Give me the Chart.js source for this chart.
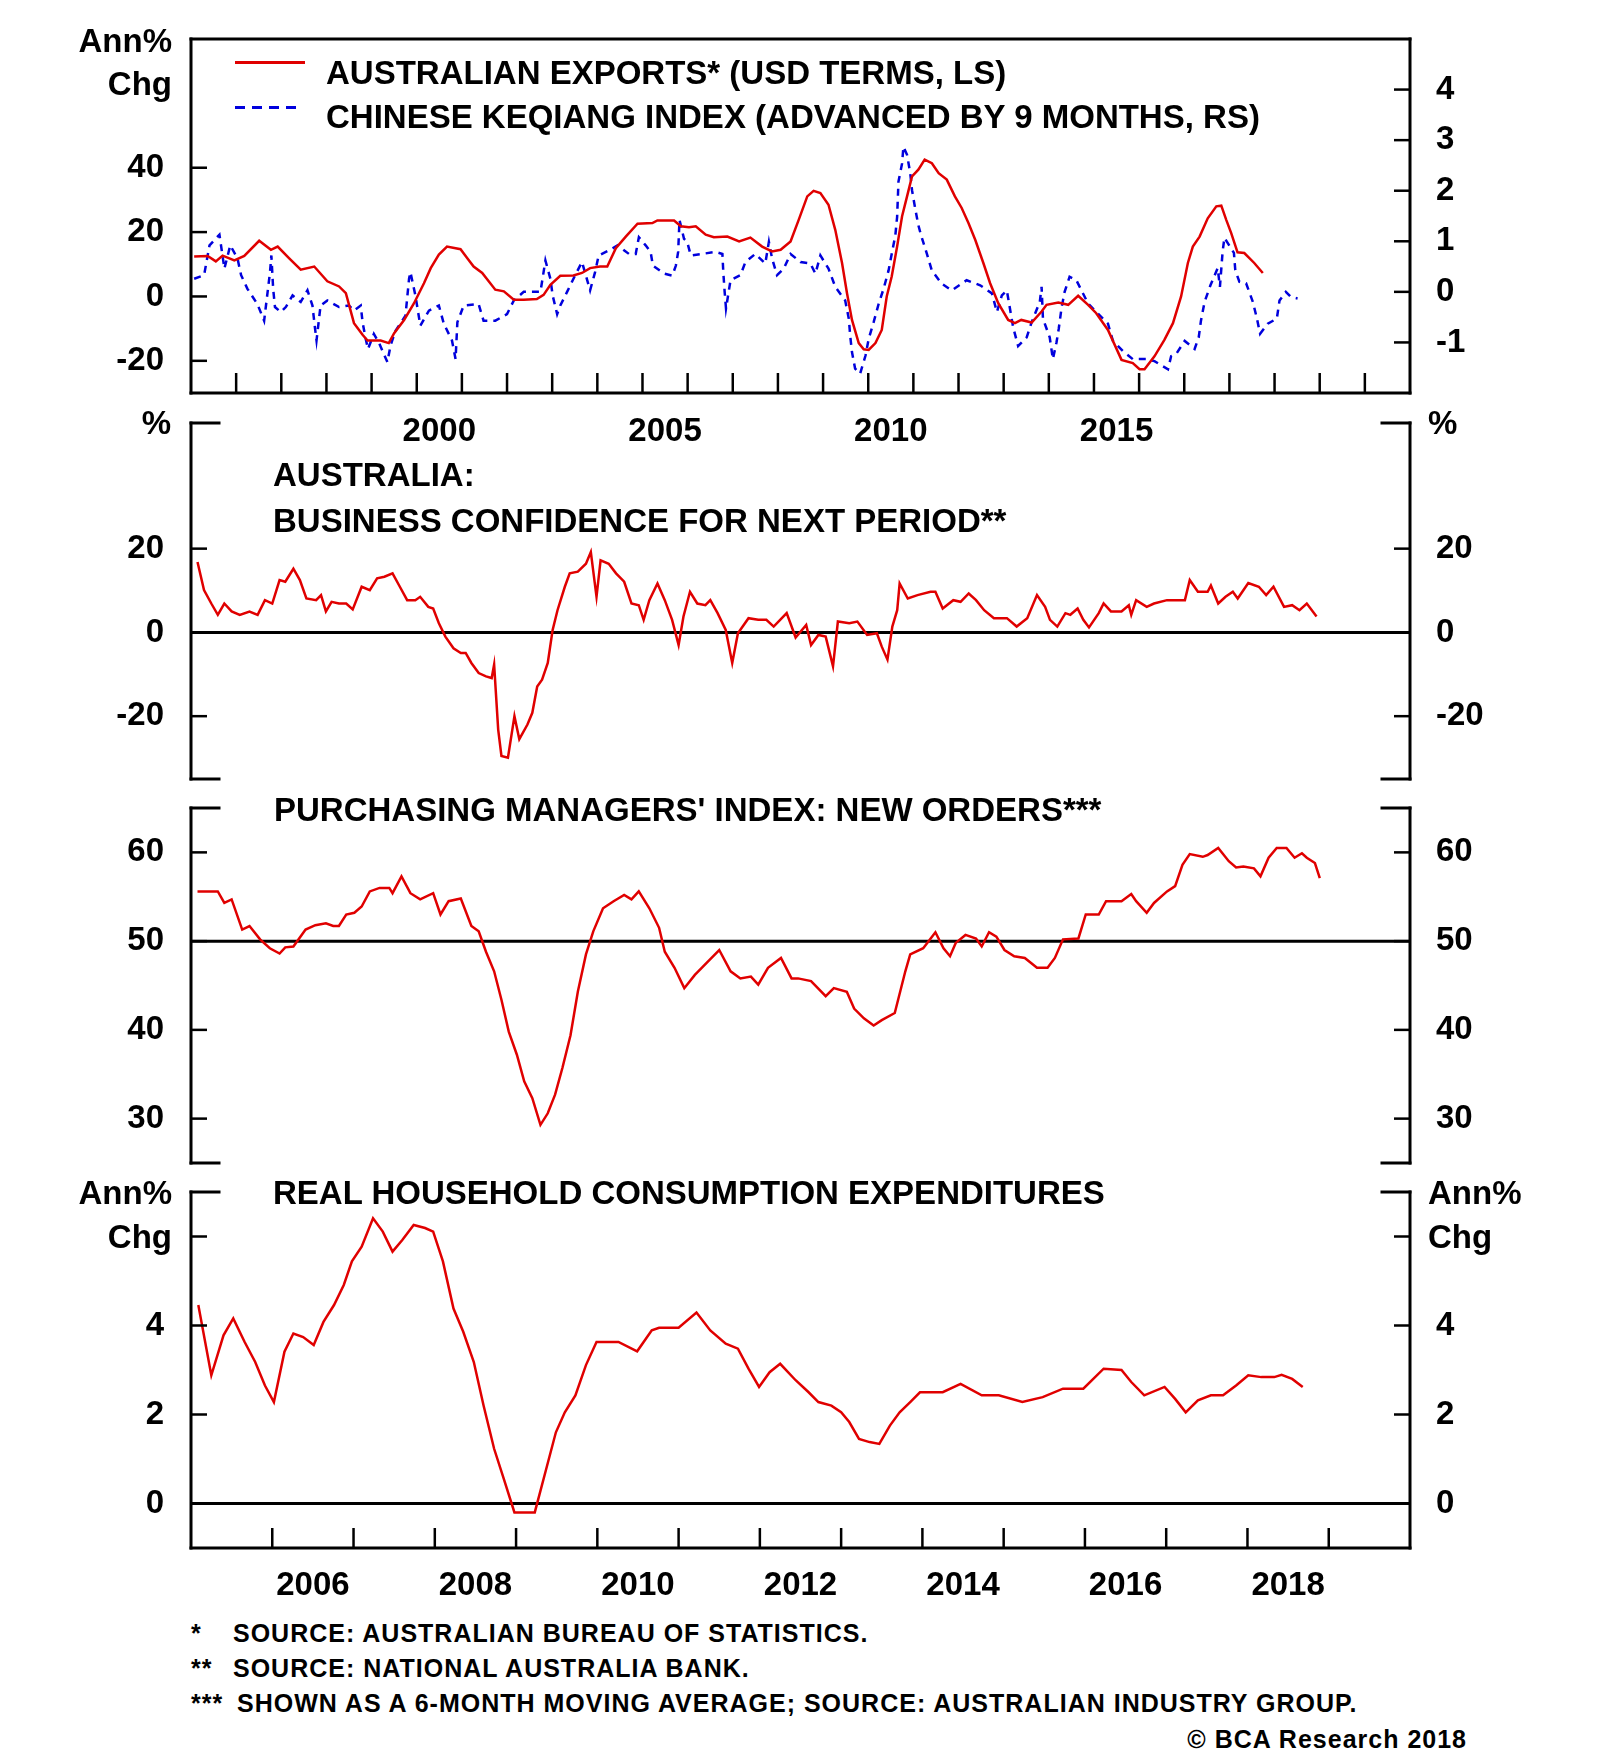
<!DOCTYPE html>
<html>
<head>
<meta charset="utf-8">
<script src="https://cdn.jsdelivr.net/npm/chart.js@4.4.1/dist/chart.umd.min.js"></script>
<style>
  html, body { margin: 0; padding: 0; background: #fff; }
  #page { position: relative; width: 1600px; height: 1758px; overflow: hidden;
          font-family: 'Liberation Sans', Arial, sans-serif; font-weight: bold; color: #000; }
  canvas { position: absolute; left: 0; }
  .t { position: absolute; font-size: 33px; line-height: 1; white-space: nowrap; transform: translateY(-50%); }
  .fn { font-size: 25px; letter-spacing: 1px; }
  .key { position: absolute; height: 3px; }
</style>
</head>
<body>
<div id="page">
  <canvas id="c1" width="1600" height="460" style="top:0px"></canvas>
  <canvas id="c2" width="1600" height="400" style="top:400px"></canvas>
  <canvas id="c3" width="1600" height="390" style="top:790px"></canvas>
  <canvas id="c4" width="1600" height="440" style="top:1170px"></canvas>

  <!-- panel 1: units + legend -->
  <div class="t" style="right:1428px; top:40px">Ann%</div>
  <div class="t" style="right:1428px; top:83px">Chg</div>
  <div class="key" style="left:235px; top:61px; width:70px; background:#e00000"></div>
  <div class="t" style="left:326px; top:72px">AUSTRALIAN EXPORTS* (USD TERMS, LS)</div>
  <div class="key" style="left:235px; top:106px; width:62px;
       background:repeating-linear-gradient(to right, #0000dd 0 10px, transparent 10px 17px)"></div>
  <div class="t" style="left:326px; top:116px">CHINESE KEQIANG INDEX (ADVANCED BY 9 MONTHS, RS)</div>

  <!-- panel 2 -->
  <div class="t" style="right:1429px; top:422px">%</div>
  <div class="t" style="left:1428px; top:422px">%</div>
  <div class="t" style="left:273px; top:474px">AUSTRALIA:</div>
  <div class="t" style="left:273px; top:520px">BUSINESS CONFIDENCE FOR NEXT PERIOD**</div>

  <!-- panel 3 -->
  <div class="t" style="left:274px; top:809px">PURCHASING MANAGERS' INDEX: NEW ORDERS***</div>

  <!-- panel 4 -->
  <div class="t" style="right:1428px; top:1192px">Ann%</div>
  <div class="t" style="right:1428px; top:1236px">Chg</div>
  <div class="t" style="left:1428px; top:1192px">Ann%</div>
  <div class="t" style="left:1428px; top:1236px">Chg</div>
  <div class="t" style="left:273px; top:1192px">REAL HOUSEHOLD CONSUMPTION EXPENDITURES</div>

  <!-- footnotes -->
  <div class="t fn" style="left:191px; top:1633px">*</div>
  <div class="t fn" style="left:233px; top:1633px">SOURCE: AUSTRALIAN BUREAU OF STATISTICS.</div>
  <div class="t fn" style="left:191px; top:1668px">**</div>
  <div class="t fn" style="left:233px; top:1668px">SOURCE: NATIONAL AUSTRALIA BANK.</div>
  <div class="t fn" style="left:191px; top:1703px">***</div>
  <div class="t fn" style="left:237px; top:1703px">SHOWN AS A 6-MONTH MOVING AVERAGE; SOURCE: AUSTRALIAN INDUSTRY GROUP.</div>
  <div class="t fn" style="right:133px; top:1739px">© BCA Research 2018</div>
</div>

<script>
// ---- data ----

// Australian exports, ann% chg, left scale of top panel
const exportYears = [1995.07, 1995.37, 1995.55, 1995.70, 1995.96, 1996.18, 1996.51, 1996.77, 1996.92, 1997.17,
  1997.43, 1997.73, 1998.02, 1998.28, 1998.43, 1998.61, 1998.80, 1998.91, 1999.20, 1999.38, 1999.50, 1999.72,
  1999.94, 2000.16, 2000.31, 2000.49, 2000.67, 2000.97, 2001.12, 2001.26, 2001.45, 2001.74, 2001.93, 2002.15,
  2002.37, 2002.66, 2002.81, 2002.96, 2003.18, 2003.47, 2003.66, 2003.84, 2004.06, 2004.22, 2004.41, 2004.63,
  2004.89, 2005.22, 2005.33, 2005.70, 2005.85, 2006.03, 2006.18, 2006.40, 2006.58, 2006.88, 2007.14, 2007.39,
  2007.65, 2007.87, 2008.06, 2008.28, 2008.46, 2008.65, 2008.79, 2008.94, 2009.12, 2009.27, 2009.42, 2009.53,
  2009.64, 2009.79, 2009.90, 2010.01, 2010.16, 2010.30, 2010.41, 2010.52, 2010.64, 2010.75, 2010.86, 2010.97,
  2011.11, 2011.25, 2011.41, 2011.56, 2011.74, 2011.92, 2012.07, 2012.22, 2012.37, 2012.55, 2012.70, 2012.88,
  2013.10, 2013.25, 2013.39, 2013.62, 2013.84, 2013.95, 2014.21, 2014.43, 2014.65, 2014.87, 2015.05, 2015.31,
  2015.61, 2015.86, 2016.01, 2016.12, 2016.34, 2016.56, 2016.75, 2016.93, 2017.08, 2017.19, 2017.34, 2017.52,
  2017.71, 2017.82, 2017.93, 2018.04, 2018.18, 2018.33, 2018.55, 2018.74];
const exportValues = [12.4, 12.6, 10.9, 12.7, 11.2, 12.6, 17.3, 14.5, 15.5, 11.9,
  8.3, 9.3, 4.7, 3.1, 1.0, -8.3, -11.9, -13.7, -13.7, -14.5, -11.4, -7.3,
  -2.1, 4.1, 8.8, 13.0, 15.5, 14.7, 11.9, 9.3, 7.3, 2.1, 1.6, -1.0,
  -1.0, -0.8, 0.5, 3.6, 6.4, 6.5, 7.3, 8.8, 9.3, 9.3, 15.0, 18.6,
  22.6, 22.8, 23.6, 23.6, 21.8, 21.5, 21.8, 19.2, 18.4, 18.6, 17.1, 18.3,
  15.5, 14.0, 14.5, 17.1, 23.8, 31.1, 32.8, 32.1, 28.5, 20.7, 10.4, 1.0,
  -7.3, -14.5, -16.4, -16.6, -14.5, -10.4, 0.0, 6.2, 15.5, 24.9, 31.1, 37.3,
  39.4, 42.5, 41.4, 38.3, 36.3, 31.1, 27.5, 22.8, 17.6, 10.4, 4.1, -2.1,
  -7.3, -8.3, -7.3, -8.1, -4.7, -2.6, -1.9, -2.6, 0.2, -2.6, -5.2, -10.4,
  -19.7, -20.7, -22.6, -22.6, -18.6, -13.5, -8.3, 0.0, 10.4, 15.5, 18.6, 24.3,
  28.0, 28.2, 23.8, 19.7, 13.7, 13.5, 10.4, 7.3];

// Chinese Keqiang index (advanced 9 months), right scale of top panel
const keqiangYears = [1995.07, 1995.29, 1995.41, 1995.63, 1995.74, 1995.87, 1996.03, 1996.11, 1996.25, 1996.47,
  1996.62, 1996.75, 1996.78, 1996.82, 1996.86, 1996.99, 1997.10, 1997.25, 1997.43, 1997.58, 1997.69, 1997.74,
  1997.78, 1997.87, 1998.02, 1998.28, 1998.50, 1998.61, 1998.76, 1998.80, 1998.87, 1998.92, 1999.05, 1999.16,
  1999.35, 1999.42, 1999.53, 1999.75, 1999.83, 1999.86, 1999.97, 2000.08, 2000.27, 2000.49, 2000.60, 2000.78,
  2000.86, 2000.90, 2001.04, 2001.37, 2001.48, 2001.74, 2002.00, 2002.15, 2002.37, 2002.74, 2002.85, 2002.96,
  2003.01, 2003.11, 2003.18, 2003.33, 2003.51, 2003.66, 2003.84, 2003.95, 2004.03, 2004.26, 2004.45, 2004.70,
  2004.85, 2004.92, 2005.07, 2005.18, 2005.23, 2005.48, 2005.66, 2005.74, 2005.79, 2005.82, 2005.92, 2005.99,
  2006.07, 2006.32, 2006.62, 2006.77, 2006.79, 2006.82, 2006.85, 2006.95, 2007.17, 2007.28, 2007.50, 2007.72,
  2007.80, 2007.87, 2007.98, 2008.13, 2008.28, 2008.50, 2008.72, 2008.83, 2008.94, 2009.12, 2009.27, 2009.49,
  2009.57, 2009.60, 2009.64, 2009.71, 2009.82, 2009.94, 2010.01, 2010.12, 2010.23, 2010.34, 2010.45, 2010.52,
  2010.60, 2010.64, 2010.67, 2010.75, 2010.78, 2010.86, 2010.93, 2010.97, 2011.04, 2011.11, 2011.17, 2011.30,
  2011.41, 2011.63, 2011.85, 2012.18, 2012.48, 2012.74, 2012.85, 2012.96, 2013.07, 2013.21, 2013.32, 2013.51,
  2013.62, 2013.80, 2013.84, 2013.87, 2014.02, 2014.09, 2014.17, 2014.22, 2014.28, 2014.35, 2014.46, 2014.61,
  2014.87, 2015.02, 2015.31, 2015.42, 2015.64, 2015.86, 2016.16, 2016.34, 2016.64, 2016.71, 2016.82, 2017.01,
  2017.23, 2017.32, 2017.37, 2017.45, 2017.58, 2017.74, 2017.79, 2017.85, 2017.89, 2017.96, 2018.10, 2018.13,
  2018.22, 2018.37, 2018.52, 2018.61, 2018.68, 2018.85, 2019.05, 2019.11, 2019.25, 2019.36, 2019.51];
const keqiangValues = [0.26, 0.33, 0.92, 1.13, 0.46, 0.92, 0.66, 0.33, 0.06, -0.24,
  -0.57, 0.39, 0.72, 0.06, -0.30, -0.40, -0.30, -0.07, -0.20, 0.03, -0.27, -0.67,
  -0.96, -0.27, -0.17, -0.30, -0.27, -0.37, -0.27, -0.60, -0.93, -1.13, -0.83, -1.00,
  -1.39, -1.06, -0.77, -0.47, 0.26, 0.39, -0.07, -0.67, -0.37, -0.27, -0.63, -0.96,
  -1.33, -0.60, -0.27, -0.24, -0.57, -0.57, -0.44, -0.17, 0.00, 0.00, 0.62, 0.26,
  -0.07, -0.44, -0.27, 0.00, 0.33, 0.59, 0.03, 0.39, 0.72, 0.82, 0.92, 0.75,
  0.75, 1.08, 0.92, 0.79, 0.52, 0.36, 0.32, 0.52, 0.79, 1.42, 1.05, 0.99,
  0.72, 0.75, 0.79, 0.75, 0.39, 0.00, -0.33, 0.23, 0.33, 0.59, 0.75, 0.56,
  0.99, 0.66, 0.33, 0.46, 0.75, 0.59, 0.56, 0.36, 0.72, 0.46, 0.10, -0.17,
  -0.53, -0.86, -1.19, -1.52, -1.62, -1.26, -0.93, -0.60, -0.24, 0.06, 0.42, 0.75,
  1.11, 1.48, 2.18, 2.54, 2.87, 2.71, 2.35, 2.01, 1.65, 1.32, 1.12, 0.75,
  0.42, 0.16, 0.03, 0.23, 0.13, -0.03, -0.40, -0.07, 0.03, -0.70, -1.07, -0.90,
  -0.60, -0.20, 0.10, -0.53, -0.90, -1.33, -1.00, -0.73, -0.33, 0.00, 0.30, 0.23,
  -0.23, -0.37, -0.63, -0.97, -1.17, -1.33, -1.33, -1.37, -1.53, -1.27, -1.23, -0.97,
  -1.13, -0.90, -0.57, -0.20, 0.13, 0.47, 0.10, 0.80, 1.07, 0.97, 0.77, 0.43,
  0.20, 0.17, -0.20, -0.53, -0.83, -0.63, -0.53, -0.17, 0.00, -0.10, -0.13];

// NAB business confidence for next period, %
const confYears = [2005.08, 2005.16, 2005.25, 2005.33, 2005.41, 2005.50, 2005.60, 2005.72, 2005.82, 2005.91,
  2006.00, 2006.09, 2006.16, 2006.26, 2006.34, 2006.42, 2006.54, 2006.60, 2006.66, 2006.73, 2006.82, 2006.91,
  2006.99, 2007.10, 2007.20, 2007.29, 2007.38, 2007.48, 2007.57, 2007.66, 2007.76, 2007.82, 2007.92, 2007.98,
  2008.05, 2008.13, 2008.23, 2008.32, 2008.38, 2008.45, 2008.54, 2008.63, 2008.70, 2008.73, 2008.78, 2008.82,
  2008.90, 2008.98, 2009.04, 2009.14, 2009.20, 2009.26, 2009.32, 2009.39, 2009.45, 2009.51, 2009.60, 2009.66,
  2009.76, 2009.86, 2009.92, 2009.99, 2010.04, 2010.14, 2010.23, 2010.33, 2010.42, 2010.51, 2010.57, 2010.64,
  2010.74, 2010.83, 2010.92, 2011.00, 2011.06, 2011.14, 2011.23, 2011.33, 2011.39, 2011.48, 2011.58, 2011.66,
  2011.73, 2011.86, 2011.98, 2012.08, 2012.17, 2012.33, 2012.44, 2012.57, 2012.63, 2012.72, 2012.81, 2012.90,
  2012.96, 2013.10, 2013.20, 2013.32, 2013.44, 2013.50, 2013.57, 2013.63, 2013.69, 2013.72, 2013.82, 2013.94,
  2014.10, 2014.16, 2014.25, 2014.38, 2014.47, 2014.57, 2014.66, 2014.76, 2014.88, 2015.04, 2015.16, 2015.29,
  2015.41, 2015.51, 2015.57, 2015.66, 2015.76, 2015.82, 2015.91, 2015.98, 2016.05, 2016.17, 2016.23, 2016.32,
  2016.45, 2016.54, 2016.57, 2016.63, 2016.76, 2016.85, 2017.01, 2017.23, 2017.29, 2017.39, 2017.51, 2017.55,
  2017.64, 2017.73, 2017.82, 2017.88, 2018.01, 2018.14, 2018.23, 2018.32, 2018.45, 2018.55, 2018.64, 2018.73,
  2018.85];
const confValues = [16.8, 10.1, 6.9, 4.2, 6.9, 5.0, 4.2, 5.0, 4.2, 7.7,
  6.9, 12.5, 12.1, 15.2, 12.5, 8.1, 7.7, 8.9, 5.0, 7.3, 6.9, 6.9,
  5.5, 10.9, 10.1, 12.9, 13.3, 14.1, 10.9, 7.7, 7.7, 8.5, 6.1, 5.7,
  2.2, -1.0, -3.8, -4.9, -4.9, -7.3, -9.7, -10.5, -10.9, -7.7, -23.2, -29.5,
  -29.9, -20.0, -25.5, -22.0, -19.2, -12.9, -11.3, -7.3, 0.6, 5.3, 10.9, 14.1,
  14.5, 16.4, 19.2, 8.5, 17.2, 16.4, 14.1, 12.1, 6.9, 6.5, 3.0, 7.7,
  11.7, 7.7, 3.0, -3.0, 3.8, 9.7, 6.9, 6.5, 7.7, 4.6, 0.6, -7.3,
  -0.2, 3.4, 3.0, 3.0, 1.4, 4.6, -1.2, 1.8, -3.0, -0.6, -1.0, -8.1,
  2.6, 2.2, 2.6, -0.6, -0.2, -3.4, -6.5, 1.4, 5.3, 11.7, 8.1, 8.9,
  9.7, 9.7, 5.7, 7.7, 7.3, 9.3, 7.7, 5.3, 3.4, 3.4, 1.4, 3.4,
  8.9, 6.1, 3.0, 1.4, 4.6, 4.2, 5.7, 3.0, 1.2, 4.6, 6.9, 5.0,
  5.0, 6.5, 4.2, 7.7, 6.1, 6.9, 7.7, 7.7, 12.5, 9.7, 9.7, 11.2,
  6.9, 8.5, 9.7, 8.1, 11.8, 10.9, 8.9, 10.9, 6.1, 6.5, 5.3, 6.9,
  3.8];

// AiG purchasing managers' index: new orders (6-month moving average)
const pmiYears = [2005.08, 2005.33, 2005.41, 2005.50, 2005.63, 2005.72, 2005.85, 2005.97, 2006.09, 2006.16,
  2006.26, 2006.41, 2006.53, 2006.66, 2006.75, 2006.82, 2006.91, 2007.01, 2007.10, 2007.20, 2007.32, 2007.44,
  2007.48, 2007.59, 2007.70, 2007.82, 2007.98, 2008.07, 2008.17, 2008.32, 2008.45, 2008.54, 2008.63, 2008.73,
  2008.82, 2008.91, 2009.01, 2009.10, 2009.20, 2009.30, 2009.39, 2009.48, 2009.57, 2009.67, 2009.76, 2009.86,
  2009.95, 2010.07, 2010.20, 2010.33, 2010.42, 2010.51, 2010.64, 2010.76, 2010.83, 2010.95, 2011.07, 2011.20,
  2011.36, 2011.50, 2011.64, 2011.76, 2011.89, 2011.98, 2012.10, 2012.26, 2012.39, 2012.47, 2012.63, 2012.81,
  2012.91, 2013.07, 2013.16, 2013.28, 2013.40, 2013.50, 2013.66, 2013.79, 2013.85, 2014.01, 2014.16, 2014.26,
  2014.34, 2014.41, 2014.53, 2014.66, 2014.73, 2014.82, 2014.91, 2015.01, 2015.13, 2015.26, 2015.41, 2015.54,
  2015.63, 2015.73, 2015.92, 2016.01, 2016.17, 2016.26, 2016.45, 2016.57, 2016.63, 2016.76, 2016.85, 2017.01,
  2017.11, 2017.20, 2017.29, 2017.45, 2017.51, 2017.64, 2017.77, 2017.86, 2017.95, 2018.08, 2018.16, 2018.26,
  2018.36, 2018.48, 2018.58, 2018.67, 2018.73, 2018.83, 2018.89];
const pmiValues = [55.6, 55.6, 54.3, 54.7, 51.3, 51.7, 50.2, 49.2, 48.6, 49.3,
  49.4, 51.3, 51.8, 52.0, 51.7, 51.7, 53.0, 53.2, 53.9, 55.6, 56.0, 56.0,
  55.4, 57.3, 55.4, 54.7, 55.4, 53.0, 54.5, 54.8, 51.7, 51.1, 48.8, 46.6,
  43.4, 39.8, 37.2, 34.2, 32.3, 29.3, 30.6, 32.7, 35.7, 39.4, 44.3, 48.5,
  51.1, 53.7, 54.5, 55.2, 54.7, 55.6, 53.7, 51.5, 48.8, 47.0, 44.7, 46.2,
  47.7, 49.0, 46.6, 45.8, 46.0, 45.1, 47.0, 48.1, 45.8, 45.8, 45.5, 43.8,
  44.7, 44.3, 42.4, 41.3, 40.5, 41.1, 41.9, 46.6, 48.5, 49.2, 51.0, 49.2,
  48.3, 49.8, 50.7, 50.3, 49.4, 51.0, 50.5, 49.0, 48.3, 48.1, 47.0, 47.0,
  48.1, 50.2, 50.3, 53.0, 53.0, 54.5, 54.5, 55.3, 54.5, 53.2, 54.3, 55.6,
  56.2, 58.6, 59.8, 59.5, 59.7, 60.5, 59.0, 58.3, 58.4, 58.2, 57.3, 59.4,
  60.5, 60.5, 59.4, 59.9, 59.4, 58.8, 57.1];

// Real household consumption expenditures, ann% chg
const consYears = [2005.09, 2005.25, 2005.40, 2005.52, 2005.66, 2005.79, 2005.91, 2006.02, 2006.15, 2006.26,
  2006.38, 2006.51, 2006.63, 2006.76, 2006.88, 2006.98, 2007.10, 2007.24, 2007.36, 2007.48, 2007.60, 2007.74,
  2007.88, 2007.98, 2008.10, 2008.23, 2008.35, 2008.48, 2008.60, 2008.73, 2008.85, 2008.98, 2009.23, 2009.37,
  2009.49, 2009.60, 2009.73, 2009.86, 2009.99, 2010.26, 2010.49, 2010.67, 2010.76, 2011.00, 2011.22, 2011.39,
  2011.58, 2011.73, 2011.86, 2011.99, 2012.12, 2012.25, 2012.44, 2012.60, 2012.72, 2012.88, 2013.00, 2013.10,
  2013.22, 2013.35, 2013.47, 2013.60, 2013.72, 2013.85, 2013.97, 2014.25, 2014.47, 2014.73, 2014.94, 2015.23,
  2015.48, 2015.73, 2015.98, 2016.23, 2016.45, 2016.57, 2016.73, 2016.98, 2017.11, 2017.24, 2017.39, 2017.55,
  2017.70, 2017.86, 2018.01, 2018.17, 2018.33, 2018.42, 2018.55, 2018.68];
const consValues = [4.46, 2.88, 3.78, 4.16, 3.63, 3.18, 2.65, 2.28, 3.41, 3.82,
  3.74, 3.56, 4.08, 4.46, 4.91, 5.44, 5.77, 6.41, 6.11, 5.66, 5.92, 6.26,
  6.19, 6.11, 5.44, 4.38, 3.86, 3.18, 2.20, 1.23, 0.55, -0.20, -0.20, 0.77,
  1.60, 2.05, 2.43, 3.11, 3.63, 3.63, 3.42, 3.89, 3.95, 3.95, 4.29, 3.89,
  3.59, 3.48, 3.03, 2.62, 2.95, 3.14, 2.77, 2.50, 2.28, 2.20, 2.05, 1.83,
  1.45, 1.38, 1.34, 1.75, 2.05, 2.28, 2.50, 2.50, 2.69, 2.43, 2.43, 2.28,
  2.39, 2.58, 2.58, 3.03, 3.00, 2.73, 2.43, 2.62, 2.35, 2.05, 2.32, 2.43,
  2.43, 2.65, 2.88, 2.84, 2.84, 2.89, 2.80, 2.62];

// axis ticks
const topYearTicks = [1996, 1997, 1998, 1999, 2000, 2001, 2002, 2003, 2004, 2005, 2006, 2007, 2008,
  2009, 2010, 2011, 2012, 2013, 2014, 2015, 2016, 2017, 2018, 2019, 2020, 2021];
const topYearLabels = [2000, 2005, 2010, 2015];
const bottomYearTicks = [2006, 2007, 2008, 2009, 2010, 2011, 2012, 2013, 2014, 2015, 2016, 2017, 2018, 2019];
const bottomYearLabels = [2006, 2008, 2010, 2012, 2014, 2016, 2018];

// ---- drawing ----
const RED = "#e00000";
const BLUE = "#0000dd";

Chart.defaults.font.family = "'Liberation Sans', Arial, sans-serif";
Chart.defaults.font.weight = "bold";
Chart.defaults.font.size = 33;
Chart.defaults.color = "#000";

function pts(xs, ys) {
  return xs.map((x, i) => ({ x: x, y: ys[i] }));
}

// frame, tick marks and reference line drawn from the chart's own scales
const panelFrame = {
  id: "panelFrame",
  beforeDatasetsDraw(chart, args, o) {
    if (o.ref === undefined) return;
    const { ctx, chartArea: a } = chart;
    const y = chart.scales.y.getPixelForValue(o.ref);
    ctx.save();
    ctx.strokeStyle = "#000";
    ctx.lineWidth = 3;
    ctx.beginPath();
    ctx.moveTo(a.left, y);
    ctx.lineTo(a.right, y);
    ctx.stroke();
    ctx.restore();
  },
  afterDatasetsDraw(chart, args, o) {
    const { ctx, chartArea: a } = chart;
    const seg = (x1, y1, x2, y2) => {
      ctx.beginPath();
      ctx.moveTo(x1, y1);
      ctx.lineTo(x2, y2);
      ctx.stroke();
    };
    const stub = 28;
    ctx.save();
    ctx.strokeStyle = "#000";
    ctx.lineWidth = 3;
    ctx.lineCap = "square";
    seg(a.left, a.top, a.left, a.bottom);
    seg(a.right, a.top, a.right, a.bottom);
    if (o.top === "full") seg(a.left, a.top, a.right, a.top);
    else { seg(a.left, a.top, a.left + stub, a.top); seg(a.right - stub, a.top, a.right, a.top); }
    if (o.bottom === "full") seg(a.left, a.bottom, a.right, a.bottom);
    else { seg(a.left, a.bottom, a.left + stub, a.bottom); seg(a.right - stub, a.bottom, a.right, a.bottom); }
    ctx.lineCap = "butt";
    ctx.lineWidth = 2.5;
    (o.leftTicks || []).forEach(v => {
      const y = chart.scales.y.getPixelForValue(v);
      seg(a.left, y, a.left + 16, y);
    });
    (o.rightTicks || []).forEach(v => {
      const y = chart.scales.y2.getPixelForValue(v);
      seg(a.right - 16, y, a.right, y);
    });
    (o.xTicks || []).forEach(v => {
      const x = chart.scales.x.getPixelForValue(v);
      seg(x, a.bottom, x, a.bottom - 20);
    });
    ctx.restore();
  }
};
Chart.register(panelFrame);

function noPad(s) {
  s.paddingTop = 0;
  s.paddingBottom = 0;
  s.paddingLeft = 0;
  s.paddingRight = 0;
}

function yAxis(position, min, max, labels) {
  return {
    type: "linear",
    position: position,
    min: min,
    max: max,
    grid: { display: false },
    border: { display: false },
    ticks: { padding: position === "left" ? 19 : 18 },
    afterBuildTicks: s => { s.ticks = labels.map(v => ({ value: v })); },
    afterFit: s => { s.width = position === "left" ? 191 : 190; noPad(s); }
  };
}

function xAxis(min, max, labels, height, pad) {
  if (!labels) return { type: "linear", min: min, max: max, display: false };
  return {
    type: "linear",
    position: "bottom",
    min: min,
    max: max,
    grid: { display: false },
    border: { display: false },
    ticks: { padding: pad, maxRotation: 0, autoSkip: false, callback: v => String(Math.floor(v)) },
    afterBuildTicks: s => { s.ticks = labels.map(v => ({ value: v + 0.5 })); },
    afterFit: s => { s.height = height; noPad(s); }
  };
}

function redLine(xs, ys, axis) {
  return { data: pts(xs, ys), yAxisID: axis || "y", borderColor: RED, borderWidth: 2.5,
           pointRadius: 0, tension: 0, fill: false };
}

function panel(id, datasets, scales, frame, pad) {
  return new Chart(document.getElementById(id), {
    type: "line",
    data: { datasets: datasets },
    options: {
      responsive: false,
      animation: false,
      layout: { padding: { top: pad[0], bottom: pad[1], left: 0, right: 0 } },
      plugins: { legend: { display: false }, tooltip: { enabled: false }, panelFrame: frame },
      scales: scales
    }
  });
}

// top panel: exports vs Keqiang
panel("c1",
  [
    redLine(exportYears, exportValues, "y"),
    { data: pts(keqiangYears, keqiangValues), yAxisID: "y2", borderColor: BLUE, borderWidth: 2.5,
      borderDash: [7, 6], pointRadius: 0, tension: 0, fill: false }
  ],
  {
    x: xAxis(1995, 2022, topYearLabels, 67, 11),
    y: yAxis("left", -30, 80, [-20, 0, 20, 40]),
    y2: yAxis("right", -2, 5, [-1, 0, 1, 2, 3, 4])
  },
  { top: "full", bottom: "full", leftTicks: [-20, 0, 20, 40], rightTicks: [-1, 0, 1, 2, 3, 4], xTicks: topYearTicks },
  [39, 0]);

// business confidence
panel("c2",
  [redLine(confYears, confValues)],
  {
    x: xAxis(2005, 2020),
    y: yAxis("left", -35, 50, [-20, 0, 20]),
    y2: yAxis("right", -35, 50, [-20, 0, 20])
  },
  { top: "stub", bottom: "stub", leftTicks: [-20, 0, 20], rightTicks: [-20, 0, 20], ref: 0 },
  [23, 21]);

// PMI new orders
panel("c3",
  [redLine(pmiYears, pmiValues)],
  {
    x: xAxis(2005, 2020),
    y: yAxis("left", 25, 65, [30, 40, 50, 60]),
    y2: yAxis("right", 25, 65, [30, 40, 50, 60])
  },
  { top: "stub", bottom: "stub", leftTicks: [30, 40, 50, 60], rightTicks: [30, 40, 50, 60], ref: 50 },
  [18, 17]);

// household consumption
panel("c4",
  [redLine(consYears, consValues)],
  {
    x: xAxis(2005, 2020, bottomYearLabels, 62, 10),
    y: yAxis("left", -1, 7, [0, 2, 4]),
    y2: yAxis("right", -1, 7, [0, 2, 4])
  },
  { top: "stub", bottom: "full", leftTicks: [2, 4, 6], rightTicks: [2, 4, 6], xTicks: bottomYearTicks, ref: 0 },
  [22, 0]);
</script>
</body>
</html>
